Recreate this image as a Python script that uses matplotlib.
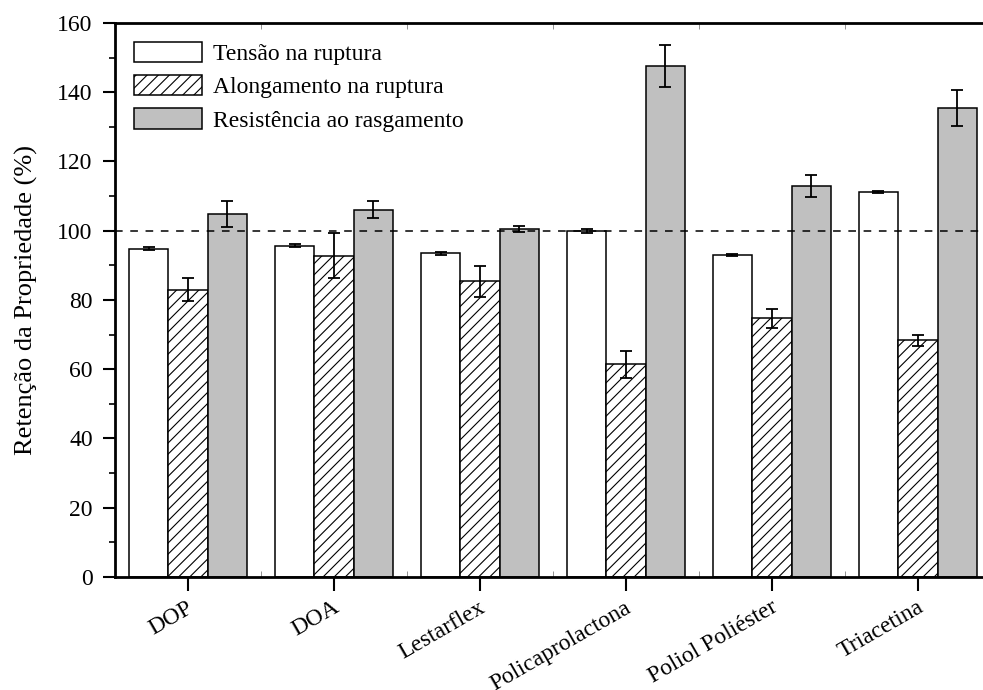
import matplotlib
matplotlib.use("Agg")
import matplotlib.pyplot as plt
import matplotlib.transforms as mtransforms
import numpy as np
from matplotlib.patches import Patch
from matplotlib.ticker import MultipleLocator

plt.rcParams["font.family"] = ["Liberation Serif", "DejaVu Serif"]
plt.rcParams["hatch.linewidth"] = 0.8

# dados
categorias = ["DOP", "DOA", "Lestarflex", "Policaprolactona", "Poliol Poliéster", "Triacetina"]
tensao = [94.8, 95.7, 93.5, 99.9, 93.0, 111.2]
tensao_err = [0.4, 0.5, 0.4, 0.5, 0.4, 0.4]
alongamento = [83.0, 92.8, 85.4, 61.5, 74.7, 68.4]
alongamento_err = [3.2, 6.6, 4.5, 3.9, 2.8, 1.6]
rasgamento = [104.8, 106.1, 100.4, 147.6, 113.0, 135.4]
rasgamento_err = [3.8, 2.4, 0.9, 6.0, 3.2, 5.3]
rotulos = ["Tensão na ruptura", "Alongamento na ruptura", "Resistência ao rasgamento"]

fig = plt.figure(figsize=(9.83, 6.9), dpi=100)
ax = fig.add_axes([0.117, 0.1638, 0.891, 0.803])

x = np.arange(len(categorias))
w = 0.27
err_kw = dict(ecolor="black", elinewidth=1.3, capsize=4.5, capthick=1.3)

ax.bar(x - w, tensao, w, yerr=tensao_err, color="white", edgecolor="black",
       linewidth=1.1, error_kw=err_kw, zorder=2)
ax.bar(x, alongamento, w, yerr=alongamento_err, color="white", edgecolor="black",
       hatch="///", linewidth=1.1, error_kw=err_kw, zorder=2)
ax.bar(x + w, rasgamento, w, yerr=rasgamento_err, color="#c0c0c0", edgecolor="black",
       linewidth=1.1, error_kw=err_kw, zorder=2)

ax.axhline(100, color="black", linestyle=(0, (5, 5)), linewidth=1.1, zorder=3)

ax.set_xlim(-0.5, len(categorias) - 0.5)
ax.set_ylim(0, 160)
ax.yaxis.set_major_locator(MultipleLocator(20))
ax.yaxis.set_minor_locator(MultipleLocator(10))
ax.set_xticks(x)
ax.set_xticks(x + 0.5, minor=True)
ax.set_xticklabels(categorias, rotation=30, ha="right", va="center",
                   rotation_mode="anchor", fontsize=17)
ax.tick_params(axis="x", which="major", direction="out", length=10, width=1.5, pad=11)
ax.tick_params(axis="x", which="minor", direction="in", length=4, width=0.6,
               top=True, color="gray")
ax.tick_params(axis="y", which="major", direction="out", length=9, width=1.5,
               pad=7, labelsize=17)
ax.tick_params(axis="y", which="minor", direction="out", length=4, width=1.2)
for s in ax.spines.values():
    s.set_linewidth(2)

# desloca um pouco os rótulos do eixo x para a direita
desloc = mtransforms.ScaledTranslation(0.04, 0, fig.dpi_scale_trans)
for lbl in ax.get_xticklabels():
    lbl.set_transform(lbl.get_transform() + desloc)

ax.set_ylabel("Retenção da Propriedade (%)", fontsize=19, labelpad=14)

handles = [
    Patch(facecolor="white", edgecolor="black", linewidth=1.1),
    Patch(facecolor="white", edgecolor="black", hatch="///", linewidth=1.1),
    Patch(facecolor="#c0c0c0", edgecolor="black", linewidth=1.1),
]
ax.legend(handles, rotulos, loc="upper left", bbox_to_anchor=(0.0, 1.0),
          frameon=False, fontsize=17, handlelength=2.9, handleheight=0.95,
          labelspacing=0.42, handletextpad=0.45, borderaxespad=0.3, borderpad=0.5)

fig.savefig("out.png", dpi=100)
